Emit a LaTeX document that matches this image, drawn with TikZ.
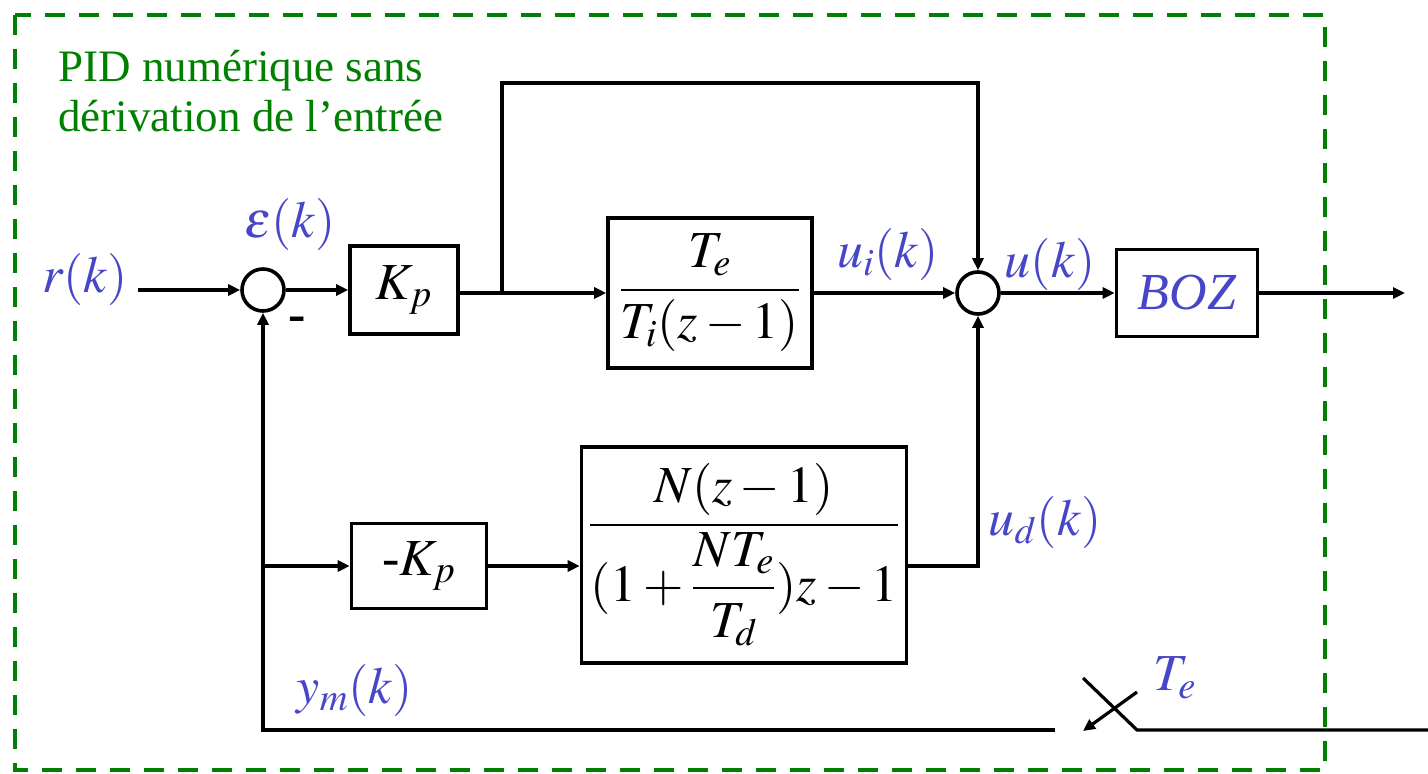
\documentclass[tikz,border=0pt]{standalone}
\usepackage{mathptmx}
\usepackage{amsmath}
\usepackage{fontspec}
\setmainfont{Liberation Serif}
\usepackage{xcolor}
\definecolor{sigblue}{HTML}{4646C8}
\definecolor{boxgreen}{HTML}{008000}
\usepackage{tikz}
\usetikzlibrary{positioning,arrows.meta,calc}
\tikzset{
  blk/.style  ={rectangle, draw=black, line width=1.8pt, fill=white, inner sep=2pt, align=center},
  sumj/.style ={circle, draw=black, line width=1.8pt, minimum size=21pt, inner sep=0pt},
  arr/.style  ={-{Triangle[length=6pt,width=5.5pt]}, line width=1.6pt},
  wire/.style ={line width=1.6pt},
  sig/.style  ={text=sigblue, inner sep=1pt},
  frame/.style={draw=boxgreen, line width=2pt, dash pattern=on 10pt off 7pt},
}

\begin{document}
\begin{tikzpicture}[x=0.5pt, y=-0.5pt, font=\fontsize{26}{30}\selectfont]
  \useasboundingbox (0,0) rectangle (1428,774);
  \draw[frame] (15,15) rectangle (1325,770);
  \node[text=boxgreen, align=left, anchor=north west, inner sep=0pt,
        font=\fontsize{22.5}{25}\selectfont] (title) at (58,50)
        {PID numérique sans\\dérivation de l’entrée};
  % main chain
  \node[sumj] (s1) at (263,290) {};
  \node[blk, minimum width=54pt, minimum height=44pt] (kp) at (404,290) {$K_p$};
  \node[blk, minimum width=102pt, minimum height=75pt] (gi) at (710,293) {$\dfrac{T_e}{T_i(z-1)}$};
  \node[sumj] (s2) at (978,293) {};
  \node[blk, minimum width=70.5pt, minimum height=43.5pt, text=sigblue] (boz) at (1187,293) {\textit{BOZ}};
  % derivative branch
  \node[blk, minimum width=67.5pt, minimum height=42.5pt] (mkp) at (419,566) {-$K_p$};
  \node[blk, minimum width=162.5pt, minimum height=108pt] (gd) at (744,555)
        {$\dfrac{N(z-1)}{(1+\dfrac{NT_e}{T_d})z-1}$};
  \coordinate (rin) at (138,290);
  \coordinate (yout) at (1405,293);
  \coordinate (br) at (502,293);
  \coordinate (fb) at (263,730);
  \coordinate (ym) at (263,566);
  \coordinate (swl) at (1055,730);
  \coordinate (swr) at (1137,730);
  \coordinate (swt) at (1083,678);
  \coordinate (swa) at (1137,692);
  \coordinate (swb) at (1083,731);
  \coordinate (yin) at (1428,730);
  \draw[arr] (rin) -- (s1);
  \draw[arr] (s1) -- (kp);
  \draw[arr] (kp.east |- br) -- (gi);
  \draw[arr] (br) -- ++(0,-210) -| (s2.north);
  \draw[arr] (gi) -- (s2);
  \draw[arr] (s2) -- (boz);
  \draw[arr] (boz) -- (yout);
  \draw[arr] (ym) -- (mkp);
  \draw[arr] (mkp.east) -- (mkp.east -| gd.west);
  \draw[arr] (gd.east |- mkp.east) -| (s2.south);
  \draw[arr] (swl) -- (fb) -- (s1.south);
  % sampler
  \draw[wire] (yin) -- (swr) -- (swt);
  \draw[arr] (swa) -- (swb);
  % signal labels
  \node[sig] (lr) at (85,280) {$r(k)$};
  \node[sig] (le) at (290,225) {$\varepsilon(k)$};
  \node (lm) at (297,324) {\textbf{-}};
  \node[sig] (lui) at (888,255) {$u_i(k)$};
  \node[sig] (lu) at (1050,265) {$u(k)$};
  \node[sig] (lud) at (1045,522) {$u_d(k)$};
  \node[sig] (lym) at (355,690) {$y_m(k)$};
  \node[sig] (lte) at (1175,678) {$T_e$};
\end{tikzpicture}
\end{document}
